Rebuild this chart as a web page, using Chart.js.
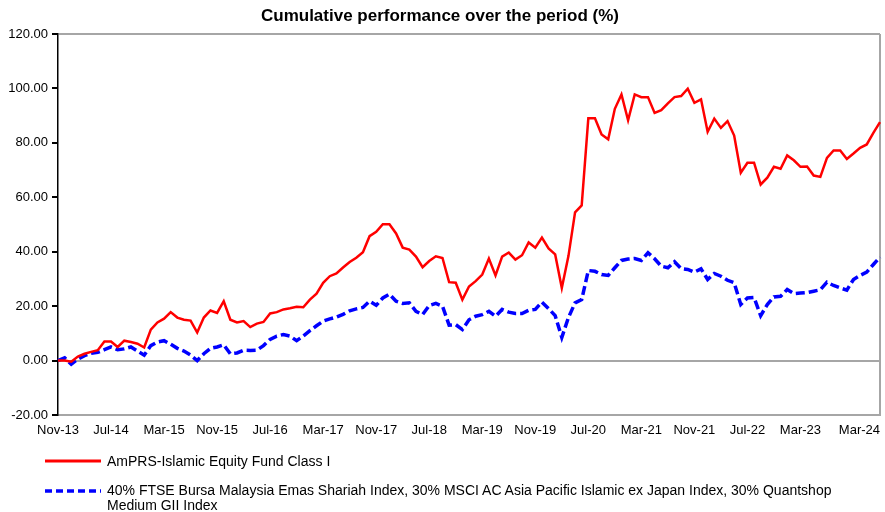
<!DOCTYPE html>
<html>
<head>
<meta charset="utf-8">
<script src="https://cdn.jsdelivr.net/npm/chart.js@4.4.1/dist/chart.umd.min.js"></script>
<style>
  body { margin: 0; background: #fff; }
  #wrap { position: relative; width: 885px; height: 512px; font-family: "Liberation Sans", Arial, sans-serif; }
  .leg { position: absolute; left: 0; width: 885px; font-size: 14px; color: #000; }
  .leg svg { position: absolute; left: 45px; }
  .leg .txt { position: absolute; left: 107px; width: 740px; }
</style>
</head>
<body>
<div id="wrap">
  <canvas id="perfChart" width="885" height="512"></canvas>
  <div class="leg" style="top:453px;">
    <svg width="56" height="16"><line x1="0" y1="8" x2="56" y2="8" stroke="#ff0000" stroke-width="3"/></svg>
    <div class="txt" style="line-height:16px;">AmPRS-Islamic Equity Fund Class I</div>
  </div>
  <div class="leg" style="top:483px;">
    <svg width="56" height="16" style="top:0;"><line x1="0" y1="8" x2="56" y2="8" stroke="#0000ff" stroke-width="3.5" stroke-dasharray="7,4"/></svg>
    <div class="txt" style="line-height:15px;">40% FTSE Bursa Malaysia Emas Shariah Index, 30% MSCI AC Asia Pacific Islamic ex Japan Index, 30% Quantshop Medium GII Index</div>
  </div>
</div>
<script>
// monthly points, Nov-13 .. Mar-24
var monthNames = ["Jan","Feb","Mar","Apr","May","Jun","Jul","Aug","Sep","Oct","Nov","Dec"];
var months = [];
for (var m = 10, y = 13; months.length < 125; m++) {
    if (m == 12) { m = 0; y++; }
    months.push(monthNames[m] + "-" + y);
}

var tickLabels = ["Nov-13","Jul-14","Mar-15","Nov-15","Jul-16","Mar-17","Nov-17","Jul-18",
                  "Mar-19","Nov-19","Jul-20","Mar-21","Nov-21","Jul-22","Mar-23","Mar-24"];

var fund = [
    0, 0, -0.4, 1.5, 2.5, 3.2, 3.8, 7, 7, 5,
    7.3, 6.8, 6.2, 4.8, 11.4, 14, 15.4, 17.8, 15.8, 15,
    14.7, 10.3, 15.8, 18.4, 17.5, 21.8, 15, 14, 14.5, 12.3,
    13.6, 14.2, 17.3, 17.8, 18.8, 19.2, 19.8, 19.6, 22.4, 24.6,
    28.6, 31, 32, 34.2, 36.2, 37.8, 39.8, 45.7, 47.3, 50.1,
    50.1, 46.7, 41.5, 40.8, 38.2, 34.3, 36.6, 38.3, 37.7, 28.8,
    28.6, 22.4, 27.2, 29.2, 31.6, 37.5, 31.3, 38.2, 39.7, 37.1,
    38.7, 43.4, 41.5, 45.2, 41.2, 39, 26.7, 38.4, 54.5, 57,
    89, 89, 83.1, 81.3, 92.5, 97.8, 88.3, 97.8, 96.8, 96.8,
    91, 92, 94.5, 96.8, 97.2, 99.9, 94.7, 96, 84.1, 88.9,
    85.5, 88, 82.7, 69, 72.7, 72.7, 64.7, 67.2, 71.2, 70.5,
    75.4, 73.6, 71.2, 71.3, 68, 67.5, 74.5, 77.2, 77.2, 74.1,
    76.1, 78.2, 79.4, 83.7, 87.6
];

var benchmark = [
    0, 1, -1.3, 0.5, 1.8, 2.7, 3, 4, 5, 4,
    4.3, 5, 3.5, 2, 5.5, 6.8, 7.3, 6, 4.5, 3.5,
    2, 0, 2.5, 4.5, 5, 5.8, 2.5, 2.8, 3.8, 3.7,
    3.8, 5.5, 7.8, 9, 9.6, 9, 7.3, 9, 11, 12.8,
    14.5, 15.3, 16, 17, 18.3, 19, 19.5, 21.8, 20.3, 23,
    24.4, 21.8, 21, 21.2, 18.1, 16.9, 20.2, 21, 20, 13,
    13.2, 11.4, 15, 16.3, 16.9, 18.1, 16.3, 18.8, 17.8, 17.3,
    17.3, 18.5, 18.8, 21.5, 19.1, 16.5, 8.5, 15.8, 21.2, 22.4,
    33.1, 32.8, 31.6, 31.3, 34.1, 36.8, 37.3, 37.5, 36.8, 39.6,
    37.4, 34.7, 34.1, 36.3, 33.8, 33.5, 32.5, 33.7, 29.8, 32,
    31, 29.5, 28.6, 20.6, 23, 23.2, 16.5, 20.6, 23.4, 23.6,
    26.1, 24.6, 24.8, 25, 25.5, 26, 28.8, 27.6, 26.7, 25.9,
    29.8, 31.3, 32.5, 35.3, 38
];

var frameGrey = "#a6a6a6";

var ctx = document.getElementById("perfChart");
var graph = new Chart(ctx, {
    type: "line",
    data: {
        labels: months,
        datasets: [{
            label: "AmPRS-Islamic Equity Fund Class I",
            data: fund,
            borderColor: "#ff0000",
            borderWidth: 2.5,
            pointRadius: 0,
            tension: 0,
            fill: false
        }, {
            label: "40% FTSE Bursa Malaysia Emas Shariah Index, 30% MSCI AC Asia Pacific Islamic ex Japan Index, 30% Quantshop Medium GII Index",
            data: benchmark,
            borderColor: "#0000ff",
            borderWidth: 3.5,
            borderDash: [9, 4],
            pointRadius: 0,
            tension: 0,
            fill: false
        }]
    },
    options: {
        responsive: false,
        animation: false,
        layout: { padding: { left: 0, right: 5, top: 0, bottom: 72 } },
        plugins: {
            legend: { display: false },
            tooltip: { enabled: false },
            title: {
                display: true,
                text: "Cumulative performance over the period (%)",
                color: "#000",
                font: { family: "Liberation Sans", size: 17, weight: "bold" },
                padding: { top: 6, bottom: 7.6 }
            }
        },
        scales: {
            x: {
                ticks: {
                    autoSkip: false,
                    maxRotation: 0,
                    align: "inner",
                    padding: 8,
                    color: "#000",
                    font: { family: "Liberation Sans", size: 13 },
                    callback: function(value, index) {
                        // first tick is an empty spacer so Nov-13 stays centred
                        return index === 0 ? "" : this.getLabelForValue(value);
                    }
                },
                afterBuildTicks: function(scale) {
                    var t = [{ value: 0 }];
                    tickLabels.forEach(function(l) { t.push({ value: months.indexOf(l) }); });
                    scale.ticks = t;
                },
                afterFit: function(scale) {
                    scale.height = 25;
                    scale.paddingLeft = 0;
                    scale.paddingRight = 0;
                },
                grid: {
                    drawTicks: false,
                    lineWidth: 2,
                    color: function(c) {
                        return c.index === c.scale.ticks.length - 1 ? frameGrey : "rgba(0,0,0,0)";
                    }
                },
                border: { color: frameGrey, width: 2 }
            },
            y: {
                min: -20,
                max: 120,
                ticks: {
                    stepSize: 20,
                    padding: 4,
                    color: "#000",
                    font: { family: "Liberation Sans", size: 13 },
                    callback: function(v) { return v.toFixed(2); }
                },
                afterFit: function(scale) { scale.width = 58; },
                grid: {
                    tickLength: 6,
                    tickColor: "#000",
                    lineWidth: 2,
                    color: function(c) {
                        var v = c.tick.value;
                        return (v === 0 || v === 120) ? frameGrey : "rgba(0,0,0,0)";
                    }
                },
                border: { color: "#000", width: 1.5 }
            }
        }
    }
});
</script>
</body>
</html>
